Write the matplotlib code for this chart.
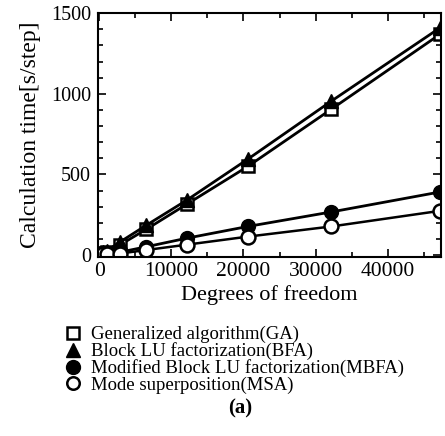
import numpy as np
import matplotlib
matplotlib.use('Agg')
import matplotlib.pyplot as plt
from matplotlib.lines import Line2D
from matplotlib.ticker import MultipleLocator

# Calculation time vs degrees of freedom
dof = [200, 500, 1000, 2800, 6500, 12100, 20600, 32200, 47300]
ga_time = [10, 15, 22, 62, 160, 315, 550, 905, 1370]
bfa_time = [12, 18, 26, 80, 185, 340, 595, 955, 1410]
mbfa_time = [8, 10, 14, 18, 52, 105, 178, 268, 392]
msa_time = [5, 7, 9, 10, 32, 65, 115, 178, 275]

labels = ['Generalized algorithm(GA)',
          'Block LU factorization(BFA)',
          'Modified Block LU factorization(MBFA)',
          'Mode superposition(MSA)']

plt.rcParams['font.family'] = ['Liberation Serif', 'DejaVu Serif']

fig = plt.figure(figsize=(4.45, 4.36), dpi=100)
ax = fig.add_axes([0.220, 0.411, 0.771, 0.559])

ms = 9
ax.plot(dof, ga_time, color='black', lw=2, marker='s', ms=ms,
        mfc='white', mec='black', mew=1.8)
ax.plot(dof, bfa_time, color='black', lw=2, marker='^', ms=ms + 1,
        mfc='black', mec='black')
ax.plot(dof, mbfa_time, color='black', lw=2, marker='o', ms=ms + 1,
        mfc='black', mec='black')
ax.plot(dof, msa_time, color='black', lw=1.8, marker='o', ms=ms + 1,
        mfc='white', mec='black', mew=1.8)

ax.set_xlim(-200, 47400)
ax.set_ylim(-10, 1500)
ax.xaxis.set_major_locator(MultipleLocator(10000))
ax.xaxis.set_minor_locator(MultipleLocator(5000))
ax.yaxis.set_major_locator(MultipleLocator(500))
ax.yaxis.set_minor_locator(MultipleLocator(100))
ax.tick_params(which='both', direction='in', top=True, right=True, width=1.2)
ax.tick_params(which='major', length=6, labelsize=14.5)
ax.tick_params(axis='x', which='major', labelsize=15.5, pad=4)
ax.tick_params(axis='y', which='major', pad=5)
ax.tick_params(which='minor', length=3.5)
for sp in ax.spines.values():
    sp.set_linewidth(1.5)

ax.set_xlabel('Degrees of freedom', fontsize=16, labelpad=3)
ax.set_ylabel('Calculation time[s/step]', fontsize=17, labelpad=7)

handles = [
    Line2D([], [], ls='none', marker='s', ms=9, mfc='white', mec='black', mew=1.8),
    Line2D([], [], ls='none', marker='^', ms=10, mfc='black', mec='black'),
    Line2D([], [], ls='none', marker='o', ms=10, mfc='black', mec='black'),
    Line2D([], [], ls='none', marker='o', ms=9, mfc='white', mec='black', mew=1.8),
]
fig.legend(handles, labels, loc='upper left', bbox_to_anchor=(0.122, 0.274),
           frameon=False, fontsize=13.5, handlelength=1.0, handletextpad=0.45,
           labelspacing=-0.05, borderpad=0)

fig.text(0.54, 0.064, '(a)', fontsize=15, fontweight='bold',
         ha='center', va='center')

fig.savefig('out.png', dpi=100, facecolor='white')
